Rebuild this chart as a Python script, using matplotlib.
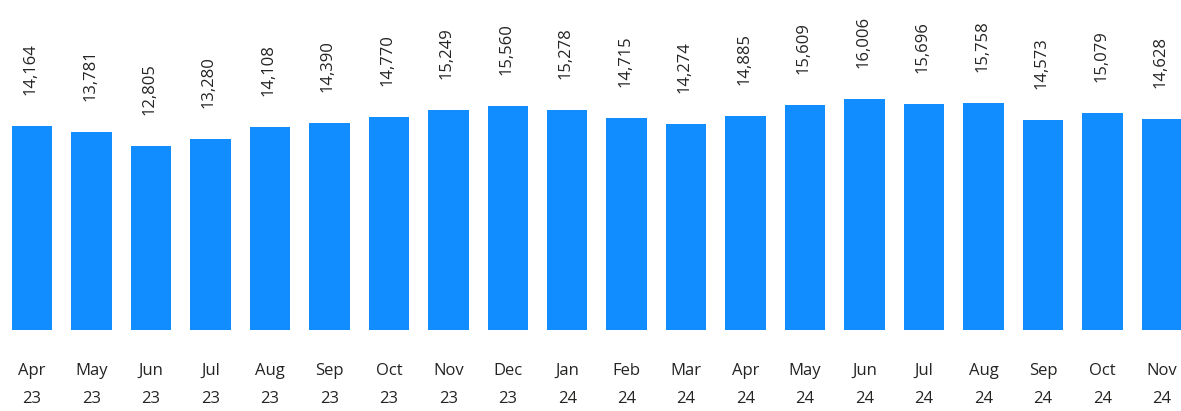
import matplotlib
matplotlib.use("Agg")
import matplotlib.pyplot as plt

months = ["Apr", "May", "Jun", "Jul", "Aug", "Sep", "Oct", "Nov", "Dec", "Jan",
          "Feb", "Mar", "Apr", "May", "Jun", "Jul", "Aug", "Sep", "Oct", "Nov"]
years = ["23", "23", "23", "23", "23", "23", "23", "23", "23", "24",
         "24", "24", "24", "24", "24", "24", "24", "24", "24", "24"]
values = [14164, 13781, 12805, 13280, 14108, 14390, 14770, 15249, 15560, 15278,
          14715, 14274, 14885, 15609, 16006, 15696, 15758, 14573, 15079, 14628]

plt.rcParams['font.family'] = ['Open Sans', 'DejaVu Sans']

W, H = 1181, 411
fig = plt.figure(figsize=(W / 100, H / 100), dpi=100)
base_px = 330
ax = fig.add_axes([0, (H - base_px) / H, 1, base_px / H])

spacing = 59.47
x0 = 32
xs = list(range(len(values)))
ax.bar(xs, values, width=0.68, color="#118DFF")
ax.set_xlim((0 - x0) / spacing, (W - x0) / spacing)
ax.set_ylim(0, base_px * 69.44)

for x, v in zip(xs, values):
    ax.annotate(f"{v:,}", (x, v), xytext=(-1, 31 * 0.72), textcoords="offset points",
                rotation=90, ha="center", va="bottom", fontsize=12, color="#252423")

ax.set_xticks(xs)
ax.set_xticklabels([f"{m}\n{y}" for m, y in zip(months, years)], fontsize=12,
                   color="#252423", linespacing=2.0)
ax.tick_params(axis="x", length=0, pad=23.5)
ax.set_yticks([])
for s in ax.spines.values():
    s.set_visible(False)

fig.savefig("out.png", dpi=100)
